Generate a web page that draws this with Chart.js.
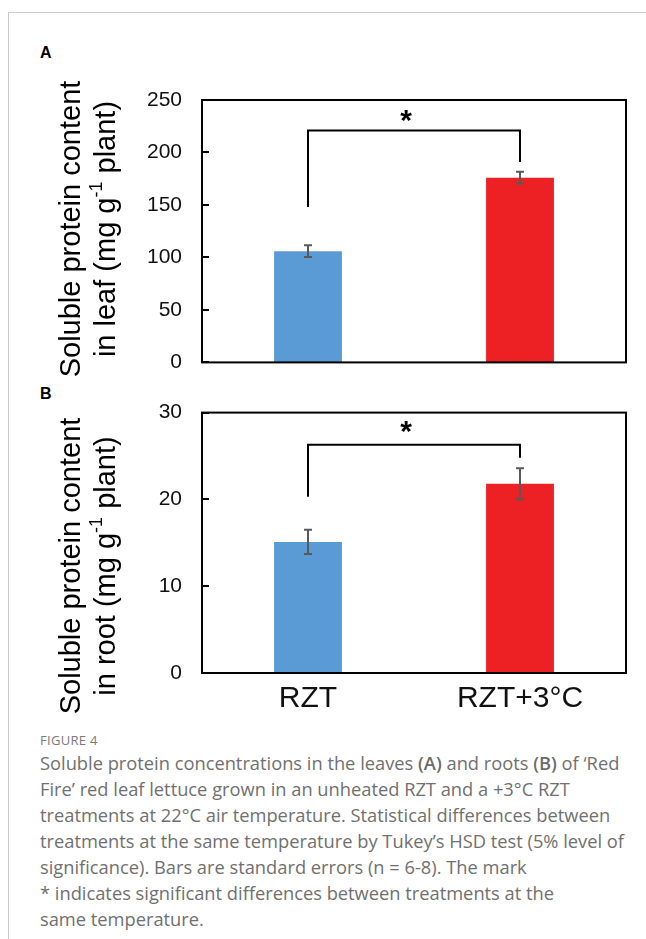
<!DOCTYPE html>
<html>
<head>
<meta charset="utf-8">
<script src="https://cdn.jsdelivr.net/npm/chart.js@4.4.1/dist/chart.umd.min.js"></script>
<style>
  html, body { margin: 0; padding: 0; background: #fff; }
  #page { position: relative; width: 646px; height: 939px; overflow: hidden; }
  #frame { position: absolute; left: 8px; top: 12px; width: 660px; height: 960px;
           border-top: 1px solid #cccccc; border-left: 1px solid #cccccc; }
  .panel-label { position: absolute; left: 40px; font: bold 16px "Liberation Sans", Arial, sans-serif; color: #000; }
  canvas { position: absolute; left: 0; }
  #caption { position: absolute; left: 40px; top: 730px; font-family: "Open Sans", sans-serif; color: #707070; }
  #caption .fig { font-size: 13px; color: #7a7a7a; letter-spacing: 0.3px; line-height: 20px; }
  #caption .ln { font-size: 18.3px; line-height: 26px; white-space: nowrap; }
  #caption b { font-weight: 600; color: #6b6b6b; }
</style>
</head>
<body>
<div id="page">
  <div id="frame"></div>
  <div class="panel-label" style="top:44px">A</div>
  <div class="panel-label" style="top:385px">B</div>
  <canvas id="chartA" width="646" height="395" style="top:0px"></canvas>
  <canvas id="chartB" width="646" height="340" style="top:380px"></canvas>
  <div id="caption">
    <div class="fig">FIGURE 4</div>
    <div class="ln">Soluble protein concentrations in the leaves <b>(A)</b> and roots <b>(B)</b> of ‘Red</div>
    <div class="ln">Fire’ red leaf lettuce grown in an unheated RZT and a +3°C RZT</div>
    <div class="ln">treatments at 22°C air temperature. Statistical differences between</div>
    <div class="ln">treatments at the same temperature by Tukey’s HSD test (5% level of</div>
    <div class="ln">significance). Bars are standard errors (n = 6-8). The mark</div>
    <div class="ln">* indicates significant differences between treatments at the</div>
    <div class="ln">same temperature.</div>
  </div>
</div>
<script>
// ---- data ----
const categories = ["RZT", "RZT+3°C"];
const barColors = ["#5B9BD5", "#ED2024"];

const leafValues = [106, 176];
const leafErrors = [5.5, 5.6];
const leafTicks = [0, 250, 50];          // min, max, step
const leafBracket = [148, 191, 221];     // left foot, right foot, top
const leafStar = 235;

const rootValues = [15.1, 21.8];
const rootErrors = [1.4, 1.8];
const rootTicks = [0, 30, 10];
const rootBracket = [20.3, 24.8, 26.3];
const rootStar = 28.4;

const FONT = '"Liberation Sans", Arial, sans-serif';

// draws frame, inward ticks, error bars, bracket, star and rotated axis title
const extras = {
  id: "extras",
  afterDatasetsDraw(chart, args, opts) {
    const ctx = chart.ctx;
    const a = chart.chartArea;
    const y = chart.scales.y;
    const bars = chart.getDatasetMeta(0).data;
    ctx.save();

    // error bars
    ctx.strokeStyle = "#595959";
    ctx.lineWidth = 2;
    opts.errors.forEach((e, i) => {
      const x = bars[i].x;
      const v = opts.values[i];
      const yt = y.getPixelForValue(v + e);
      const yb = y.getPixelForValue(v - e);
      ctx.beginPath();
      ctx.moveTo(x, yt); ctx.lineTo(x, yb);
      ctx.moveTo(x - 4, yt); ctx.lineTo(x + 4, yt);
      ctx.moveTo(x - 4, yb); ctx.lineTo(x + 4, yb);
      ctx.stroke();
    });

    // frame + inward ticks
    ctx.strokeStyle = "#000";
    ctx.lineWidth = 2;
    ctx.strokeRect(a.left, a.top, a.right - a.left, a.bottom - a.top);
    ctx.beginPath();
    y.ticks.forEach(t => {
      const py = Math.round(y.getPixelForValue(t.value));
      ctx.moveTo(a.left, py); ctx.lineTo(a.left + 7, py);
    });
    ctx.stroke();

    // significance bracket
    const [lf, rf, top] = opts.bracket;
    const x0 = bars[0].x, x1 = bars[1].x;
    ctx.beginPath();
    ctx.moveTo(x0, y.getPixelForValue(lf));
    ctx.lineTo(x0, y.getPixelForValue(top));
    ctx.lineTo(x1, y.getPixelForValue(top));
    ctx.lineTo(x1, y.getPixelForValue(rf));
    ctx.stroke();

    ctx.fillStyle = "#000";
    ctx.font = "bold 30px " + FONT;
    ctx.textAlign = "center";
    ctx.textBaseline = "middle";
    ctx.fillText("*", (x0 + x1) / 2 - 8, y.getPixelForValue(opts.star) + 6);

    // rotated y title, two lines, second with superscript -1
    ctx.translate(0, opts.titleCenter);
    ctx.rotate(-Math.PI / 2);
    ctx.font = "29px " + FONT;
    ctx.fillStyle = "#000";
    ctx.textBaseline = "middle";
    ctx.textAlign = "center";
    ctx.fillText(opts.title[0], 0, 72);

    const big = "29px " + FONT, small = "18px " + FONT;
    const parts = [[opts.title[1], big, 0], ["-1", small, -10], [opts.title[2], big, 0]];
    let total = 0;
    parts.forEach(p => { ctx.font = p[1]; total += ctx.measureText(p[0]).width; });
    let cx = -total / 2;
    ctx.textAlign = "left";
    parts.forEach(p => {
      ctx.font = p[1];
      ctx.fillText(p[0], cx, 107 + p[2]);
      cx += ctx.measureText(p[0]).width;
    });
    ctx.restore();
  }
};

function makePanel(id, values, errors, ticks, bracket, star, title, titleCenter, showX, padTop, padBottom) {
  return new Chart(document.getElementById(id), {
    type: "bar",
    data: {
      labels: categories,
      datasets: [{
        data: values,
        backgroundColor: barColors,
        categoryPercentage: 0.8,
        barPercentage: 0.4
      }]
    },
    options: {
      responsive: false,
      devicePixelRatio: 1,
      animation: false,
      layout: { padding: { left: 0, right: 20, top: padTop, bottom: padBottom } },
      plugins: {
        legend: { display: false },
        tooltip: { enabled: false },
        extras: { values, errors, bracket, star, title, titleCenter }
      },
      scales: {
        x: {
          display: showX,
          grid: { display: false, drawTicks: false },
          border: { display: false },
          ticks: { color: "#111", font: { family: FONT, size: 30 }, padding: 8 },
          afterFit: s => { s.height = showX ? 47 : 0; }
        },
        y: {
          min: ticks[0],
          max: ticks[1],
          grid: { display: false, drawTicks: false },
          border: { display: false },
          ticks: { stepSize: ticks[2], color: "#111", font: { family: FONT, size: 21 }, padding: 20 },
          afterFit: s => { s.width = 202; }
        }
      }
    },
    plugins: [extras]
  });
}

makePanel("chartA", leafValues, leafErrors, leafTicks, leafBracket, leafStar,
  ["Soluble protein content", "in leaf (mg g", " plant)"], 229, false, 100, 0);
makePanel("chartB", rootValues, rootErrors, rootTicks, rootBracket, rootStar,
  ["Soluble protein content", "in root (mg g", " plant)"], 186, true, 32, 0);
</script>
</body>
</html>
